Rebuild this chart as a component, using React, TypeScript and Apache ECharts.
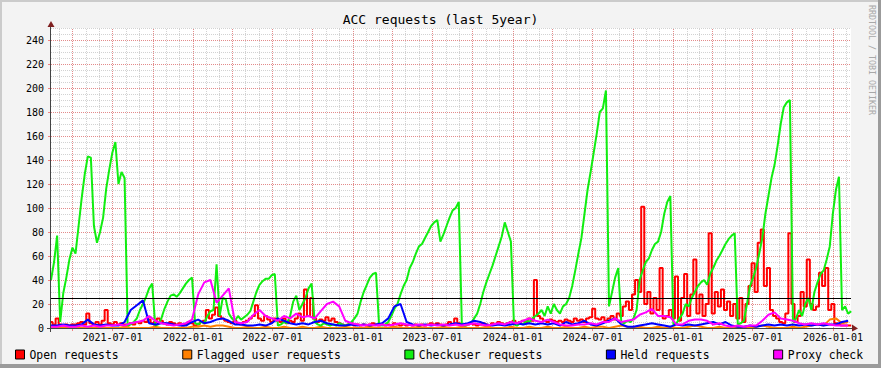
import { useEffect, useRef } from 'react';
import * as echarts from 'echarts';

const MONO = '"DejaVu Sans Mono", monospace';
const DAY = 86400000;
const START = Date.UTC(2021, 1, 10, 12);
const END = Date.UTC(2026, 1, 11);

const seriesNames = ['Open requests', 'Flagged user requests', 'Checkuser requests', 'Held requests', 'Proxy check'];
const seriesColors = ['#ff0000', '#ff8000', '#11ee11', '#0000ff', '#ff00ff'];
// sampling step (days) of each series array, first sample at START
const seriesSteps = [7, 14, 7, 14, 14];
const seriesStepMode: (string | false)[] = ['middle', false, false, false, false];

const xLabelDates = ['2021-07-01', '2022-01-01', '2022-07-01', '2023-01-01', '2023-07-01', '2024-01-01', '2024-07-01', '2025-01-01', '2025-07-01', '2026-01-01'];
const yMax = 250;
const yLabelStep = 20;
const yMinorStep = 5;
const hruleValue = 25;

// weekly
const openRequests = [
  5, 3, 8, 3, 2, 3, 2, 3, 3, 4,
  5, 3, 12, 4, 3, 5, 3, 6, 15, 4,
  3, 5, 3, 4, 3, 2, 4, 3, 5, 4,
  6, 5, 7, 4, 5, 8, 6, 4, 3, 5,
  4, 3, 4, 2, 3, 5, 4, 2, 3, 5,
  6, 15, 8, 11, 17, 10, 8, 6, 5, 4,
  6, 4, 3, 5, 6, 8, 10, 19, 8, 6,
  10, 7, 5, 8, 6, 5, 8, 4, 6, 5,
  8, 12, 6, 32, 10, 25, 8, 5, 7, 6,
  9, 6, 8, 5, 4, 3, 2, 3, 4, 2,
  3, 2, 3, 2, 3, 4, 3, 2, 3, 2,
  3, 2, 4, 3, 2, 3, 2, 3, 2, 3,
  2, 3, 2, 3, 4, 3, 4, 3, 2, 3,
  5, 3, 8, 4, 3, 2, 3, 4, 3, 2,
  3, 4, 3, 2, 4, 3, 5, 4, 3, 4,
  5, 6, 4, 5, 6, 5, 8, 6, 40, 10,
  8, 6, 5, 7, 6, 5, 6, 5, 7, 6,
  5, 8, 6, 7, 5, 8, 9, 16, 8, 7,
  9, 6, 8, 10, 7, 12, 10, 18, 22, 15,
  28, 40, 30, 101, 20, 30, 12, 25, 15, 50,
  8, 10, 15, 8, 43, 6, 25, 45, 10, 28,
  57, 12, 28, 10, 20, 79, 12, 30, 18, 32,
  15, 22, 10, 20, 8, 25, 5, 20, 35, 54,
  30, 71, 82, 35, 50, 15, 10, 8, 5, 4,
  12, 79, 20, 5, 10, 30, 18, 57, 20, 15,
  18, 46, 35, 50, 15, 20, 4, 3, 2, 2,
  2, 2,
];

// biweekly
const flaggedUserRequests = [
  0, 0, 0, 1, 0, 0, 0, 0, 1, 0,
  0, 0, 1, 0, 0, 0, 0, 1, 0, 0,
  0, 0, 0, 1, 1, 2, 1, 2, 2, 1,
  0, 0, 1, 0, 0, 1, 0, 0, 1, 0,
  0, 1, 0, 0, 1, 0, 0, 0, 1, 0,
  0, 0, 1, 0, 0, 0, 1, 0, 0, 0,
  1, 0, 0, 0, 1, 0, 0, 1, 0, 0,
  0, 1, 0, 0, 0, 1, 0, 0, 1, 0,
  0, 1, 0, 0, 1, 0, 0, 1, 0, 1,
  1, 0, 1, 2, 1, 0, 1, 0, 0, 1,
  0, 1, 0, 0, 1, 2, 1, 0, 0, 1,
  0, 0, 1, 0, 0, 1, 2, 1, 0, 0,
  0, 1, 0, 1, 2, 3, 2, 7, 8, 4, 5,
];

// weekly
const checkuserRequests = [
  40, 55, 77, 5, 29, 42, 57, 67, 62, 85,
  108, 128, 143, 142, 85, 71, 80, 92, 116, 132,
  146, 155, 120, 130, 125, 2, 3, 5, 8, 15,
  20, 26, 33, 37, 2, 3, 8, 16, 22, 27,
  28, 26, 29, 33, 37, 40, 42, 4, 3, 5,
  4, 10, 14, 15, 53, 10, 25, 24, 12, 8,
  6, 10, 7, 9, 11, 14, 22, 30, 36, 39,
  41, 41, 44, 45, 2, 3, 5, 4, 10, 22,
  27, 15, 20, 25, 33, 37, 5, 3, 2, 4,
  3, 2, 3, 2, 4, 3, 2, 3, 5, 8,
  12, 22, 30, 36, 42, 45, 46, 3, 2, 3,
  5, 10, 16, 20, 28, 35, 40, 50, 55, 62,
  68, 70, 75, 80, 85, 88, 90, 72, 78, 85,
  92, 98, 100, 105, 3, 2, 3, 4, 8, 12,
  20, 30, 38, 45, 52, 60, 68, 76, 88, 80,
  72, 3, 2, 4, 3, 6, 5, 8, 10, 12,
  15, 10, 18, 12, 20, 15, 12, 18, 20, 25,
  35, 48, 62, 75, 95, 115, 130, 146, 162, 180,
  183, 198, 18, 30, 42, 50, 5, 4, 6, 5,
  8, 15, 40, 48, 55, 58, 65, 70, 72, 80,
  95, 105, 110, 3, 4, 8, 12, 20, 18, 25,
  30, 35, 38, 40, 36, 45, 50, 56, 60, 65,
  70, 74, 77, 79, 3, 4, 6, 20, 35, 42,
  50, 62, 75, 95, 110, 125, 136, 152, 170, 184,
  188, 190, 5, 8, 15, 10, 20, 25, 15, 30,
  38, 45, 48, 57, 68, 95, 115, 126, 15, 18,
  12, 14,
];

// biweekly
const heldRequests = [
  2, 2, 3, 2, 2, 3, 7, 3, 2, 3,
  2, 2, 5, 15, 19, 23, 4, 3, 4, 4,
  3, 2, 2, 5, 7, 4, 5, 7, 8, 6,
  3, 3, 2, 2, 3, 2, 4, 8, 6, 4,
  3, 4, 3, 5, 6, 4, 3, 2, 2, 3,
  2, 3, 2, 3, 4, 8, 18, 20, 5, 3,
  2, 3, 2, 3, 2, 3, 4, 3, 4, 6,
  5, 3, 2, 3, 2, 3, 4, 3, 4, 3,
  4, 3, 4, 2, 5, 3, 4, 6, 3, 2,
  4, 6, 8, 3, 1, 1, 2, 3, 4, 3,
  2, 1, 3, 2, 3, 2, 3, 4, 5, 3,
  5, 2, 1, 1, 2, 1, 2, 3, 2, 3,
  2, 3, 2, 3, 2, 3, 2, 3, 3, 5, 6,
];

// biweekly
const proxyCheck = [
  1, 1, 2, 1, 1, 2, 1, 2, 1, 2,
  2, 3, 2, 4, 5, 6, 10, 6, 4, 3,
  2, 3, 4, 7, 28, 38, 40, 21, 27, 33,
  5, 4, 5, 11, 15, 10, 8, 6, 10, 8,
  12, 9, 10, 8, 14, 20, 22, 18, 6, 4,
  3, 2, 3, 2, 3, 2, 3, 4, 3, 2,
  3, 2, 3, 2, 3, 2, 3, 2, 3, 4,
  3, 2, 3, 4, 3, 5, 4, 6, 8, 6,
  5, 7, 5, 3, 2, 2, 3, 3, 4, 3,
  5, 5, 8, 5, 6, 7, 11, 13, 16, 10,
  10, 9, 3, 3, 6, 7, 7, 6, 3, 4,
  2, 1, 2, 1, 2, 2, 6, 11, 13, 8,
  7, 6, 4, 3, 4, 3, 4, 3, 2, 2, 2,
];

const seriesValues = [openRequests, flaggedUserRequests, checkuserRequests, heldRequests, proxyCheck];

const parseDate = (s: string) => Date.UTC(+s.slice(0, 4), +s.slice(5, 7) - 1, +s.slice(8, 10));
const pad = (n: number) => (n < 10 ? '0' + n : '' + n);
const fmtDate = (v: number) => {
  const d = new Date(v);
  return `${d.getUTCFullYear()}-${pad(d.getUTCMonth() + 1)}-${pad(d.getUTCDate())}`;
};

export default function App() {
  const ref = useRef<HTMLDivElement>(null);
  useEffect(() => {
    if (!ref.current) return;
    const chart = echarts.init(ref.current, undefined, { renderer: 'svg' });

    const monthStarts: number[] = [];
    const quarterStarts: number[] = [];
    for (let y = 2021; y <= 2026; y++) {
      for (let m = 0; m < 12; m++) {
        const t = Date.UTC(y, m, 1);
        if (t > START && t < END) {
          monthStarts.push(t);
          if (m % 3 === 0) quarterStarts.push(t);
        }
      }
    }
    const labelValues = xLabelDates.map(parseDate);

    const dataSeries: any[] = seriesNames.map((name, k) => ({
      name,
      type: 'line',
      data: seriesValues[k].map((v, i) => [START + i * seriesSteps[k] * DAY, v]),
      step: seriesStepMode[k],
      symbol: 'none',
      showSymbol: false,
      z: 2,
      silent: true,
      lineStyle: { color: seriesColors[k], width: 2 },
      itemStyle: { color: seriesColors[k] },
      emphasis: { disabled: true },
    }));
    dataSeries[dataSeries.length - 1].markLine = {
      z: 10,
      silent: true,
      symbol: ['none', 'none'],
      label: { show: false },
      lineStyle: { color: '#000', width: 1, type: 'solid' },
      data: [{ yAxis: hruleValue }],
    };

    const gridSeries = [
      {
        type: 'line',
        data: [],
        silent: true,
        markLine: {
          z: 1,
          silent: true,
          symbol: ['none', 'none'],
          label: { show: false },
          lineStyle: { color: '#d2d2d2', width: 1, type: [1, 1] },
          data: monthStarts.map((t) => ({ xAxis: t })),
        },
      },
      {
        type: 'line',
        data: [],
        silent: true,
        markLine: {
          z: 1.5,
          silent: true,
          symbol: ['none', 'none'],
          label: { show: false },
          lineStyle: { color: 'rgba(240,80,80,0.55)', width: 1, type: [1, 1] },
          data: quarterStarts.map((t) => ({ xAxis: t })),
        },
      },
    ];

    chart.setOption({
      animation: false,
      backgroundColor: '#f3f3f3',
      title: {
        text: 'ACC requests (last 5year)',
        left: 'center',
        top: 13,
        padding: 0,
        textStyle: { fontFamily: MONO, fontSize: 13, fontWeight: 'normal', color: '#000' },
      },
      legend: {
        data: seriesNames,
        left: 15,
        top: 349,
        padding: 0,
        itemGap: 63.6,
        itemWidth: 9,
        itemHeight: 9,
        icon: 'rect',
        selectedMode: false,
        itemStyle: { borderColor: '#000', borderWidth: 1 },
        textStyle: { fontFamily: MONO, fontSize: 11.4, color: '#000' },
      },
      grid: {
        left: 51,
        top: 28,
        width: 800,
        height: 300,
        show: true,
        backgroundColor: '#ffffff',
        borderWidth: 0,
      },
      xAxis: {
        type: 'value',
        min: START,
        max: END,
        axisLine: { show: false },
        axisTick: {
          show: true,
          customValues: quarterStarts,
          length: 3,
          lineStyle: { color: 'rgba(240,80,80,0.7)' },
        },
        axisLabel: {
          customValues: labelValues,
          formatter: (v: number) => fmtDate(v),
          fontFamily: MONO,
          fontSize: 10,
          color: '#000',
          margin: 4,
        },
        splitLine: { show: false },
      },
      yAxis: [
        {
          type: 'value',
          min: 0,
          max: yMax,
          interval: yLabelStep,
          z: 1,
          axisLine: { show: false },
          axisTick: { show: true, length: 3, lineStyle: { color: 'rgba(240,80,80,0.7)' } },
          axisLabel: { fontFamily: MONO, fontSize: 10, color: '#000', margin: 7, showMaxLabel: false },
          splitLine: { show: true, showMaxLine: false, lineStyle: { color: 'rgba(240,80,80,0.55)', type: [1, 1], width: 1 } },
        },
        {
          type: 'value',
          min: 0,
          max: yMax,
          interval: yMinorStep,
          axisLine: { show: false },
          axisTick: { show: false },
          axisLabel: { show: false },
          splitLine: { show: true, lineStyle: { color: '#d2d2d2', type: [1, 1], width: 1 } },
        },
      ],
      series: [...gridSeries, ...dataSeries],
      graphic: [
        { type: 'rect', silent: true, shape: { x: 0, y: 0, width: 881, height: 2 }, style: { fill: '#cbcbcb' } },
        { type: 'rect', silent: true, shape: { x: 0, y: 0, width: 2, height: 368 }, style: { fill: '#cbcbcb' } },
        { type: 'rect', silent: true, shape: { x: 878, y: 0, width: 3, height: 368 }, style: { fill: '#9b9b9b' } },
        { type: 'rect', silent: true, shape: { x: 0, y: 364, width: 881, height: 4 }, style: { fill: '#9b9b9b' } },
        { type: 'line', silent: true, z: 20, shape: { x1: 50.5, y1: 332, x2: 50.5, y2: 25 }, style: { stroke: '#444', lineWidth: 1 } },
        { type: 'line', silent: true, z: 20, shape: { x1: 47, y1: 328.5, x2: 854, y2: 328.5 }, style: { stroke: '#444', lineWidth: 1 } },
        { type: 'polygon', silent: true, z: 20, shape: { points: [[47.5, 27], [54.5, 27], [51, 21]] }, style: { fill: '#7f1f1f' } },
        { type: 'polygon', silent: true, z: 20, shape: { points: [[852, 324.5], [852, 331.5], [858, 328.5]] }, style: { fill: '#7f1f1f' } },
        {
          type: 'text',
          silent: true,
          x: 872,
          y: 60,
          rotation: -Math.PI / 2,
          style: {
            text: 'RRDTOOL / TOBI OETIKER',
            fill: '#a8a8a8',
            font: '8.3px "DejaVu Sans Mono"',
            align: 'center',
            verticalAlign: 'middle',
            textAlign: 'center',
            textVerticalAlign: 'middle',
          },
        },
      ],
    });
    return () => chart.dispose();
  }, []);
  return <div ref={ref} style={{ position: 'absolute', left: 0, top: 0, width: 881, height: 368 }} />;
}
